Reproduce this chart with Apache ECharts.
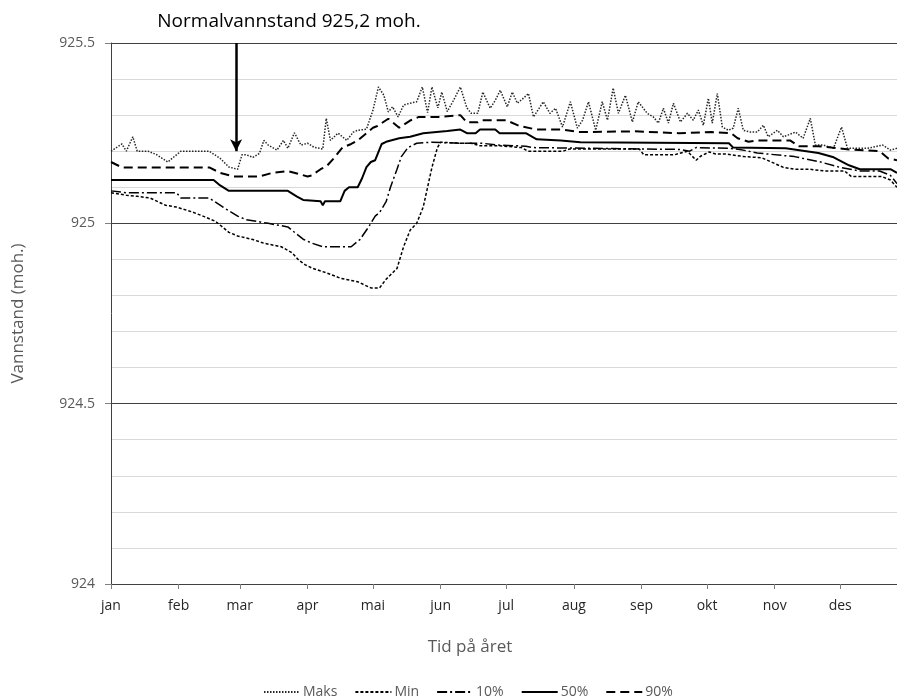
<!DOCTYPE html>
<html>
<head>
<meta charset="utf-8">
<script src="https://cdn.jsdelivr.net/npm/echarts@6/dist/echarts.min.js"></script>
<style>html,body{margin:0;padding:0;background:#fff}#c{width:897px;height:697px}</style>
</head>
<body>
<div id="c"></div>
<script>
const monthNames = ['jan','feb','mar','apr','mai','jun','jul','aug','sep','okt','nov','des'];
const monthStarts = [0,31,59,90,120,151,181,212,243,273,304,334];
const yTicks = [924, 924.5, 925, 925.5];
const seriesNames = ['Maks','Min','10%','50%','90%'];

const maks = [[0,925.20],[5,925.22],[7,925.20],[10,925.24],[12,925.20],[17,925.20],[21,925.19],[26,925.17],[28,925.18],[32,925.20],[45,925.20],[50,925.18],[54,925.156],[58,925.15],[60,925.19],[62,925.19],[65,925.183],[68,925.194],[70,925.23],[72,925.217],[76,925.203],[79,925.23],[81,925.208],[84,925.251],[87,925.217],[90,925.222],[93,925.211],[97,925.206],[98.6,925.291],[100.5,925.23],[104,925.25],[108,925.23],[111,925.253],[113,925.258],[117,925.261],[120,925.314],[122.5,925.378],[125,925.355],[127,925.309],[129,925.323],[131.5,925.295],[134,925.328],[137,925.333],[140,925.337],[142.6,925.378],[145,925.307],[147,925.378],[149.7,925.32],[151.5,925.364],[154,925.31],[156.8,925.34],[160,925.378],[163,925.32],[165,925.305],[168,925.305],[170.3,925.364],[173.7,925.319],[176,925.341],[178.3,925.369],[181.5,925.323],[183.8,925.364],[186.1,925.333],[188.9,925.347],[191.2,925.36],[193.5,925.295],[198,925.337],[201,925.305],[203.6,925.319],[206.8,925.267],[210.4,925.337],[213.6,925.264],[216,925.286],[218.7,925.337],[222,925.258],[225,925.337],[227.4,925.286],[230,925.375],[232.4,925.305],[235.6,925.355],[238.8,925.281],[241.5,925.337],[245.6,925.305],[248.4,925.295],[250.7,925.278],[253,925.319],[255.3,925.278],[257.6,925.333],[260.8,925.281],[264,925.305],[266.7,925.286],[269,925.314],[271.3,925.272],[273.6,925.347],[275.4,925.278],[277.7,925.36],[280,925.267],[282.8,925.258],[285,925.264],[287.3,925.319],[289.6,925.258],[292.8,925.253],[296,925.253],[298.8,925.272],[301,925.24],[305.2,925.258],[308,925.24],[313.5,925.253],[317,925.236],[320.3,925.291],[322.6,925.217],[326.3,925.217],[330.9,925.208],[334.6,925.267],[337.3,925.208],[346.5,925.208],[353.4,925.217],[357,925.203],[360,925.208]];

const min = [[0,925.085],[7,925.078],[12,925.075],[18,925.07],[25,925.05],[30,925.045],[37,925.032],[43,925.018],[48,925.005],[51,924.99],[54,924.975],[58,924.965],[65,924.955],[70,924.945],[78,924.935],[83,924.918],[86,924.898],[89,924.885],[92,924.876],[99,924.862],[105,924.848],[113,924.838],[119,924.821],[123,924.821],[126,924.845],[131,924.875],[134,924.935],[137,924.981],[140,925.0],[143,925.045],[145,925.1],[147,925.155],[149.5,925.21],[151,925.225],[160,925.222],[165,925.222],[169,925.215],[178,925.215],[188,925.21],[191,925.2],[207,925.2],[210,925.206],[242,925.206],[244,925.19],[258,925.19],[264,925.2],[268,925.175],[270,925.186],[274,925.198],[277,925.192],[282,925.192],[290,925.185],[298,925.182],[308,925.155],[313,925.15],[320,925.15],[327,925.145],[336,925.145],[339,925.13],[353,925.13],[357,925.12],[360,925.1]];

const p10 = [[0,925.09],[7,925.085],[30,925.085],[32,925.07],[45,925.07],[51,925.046],[58,925.02],[62,925.01],[72,925.0],[81,924.99],[88,924.956],[92,924.945],[97,924.935],[110,924.935],[114,924.955],[118,924.99],[121,925.02],[123,925.03],[126,925.06],[128,925.1],[131,925.15],[133,925.185],[136,925.21],[140,925.222],[147,925.225],[160,925.222],[170,925.222],[177,925.217],[190,925.214],[193,925.21],[260,925.205],[265,925.2],[268,925.21],[283,925.208],[288,925.205],[296,925.195],[313,925.185],[325,925.17],[334,925.155],[343,925.145],[352,925.145],[357,925.133],[360,925.11]];

const p50 = [[0,925.12],[47,925.12],[50,925.105],[54,925.09],[81,925.09],[85,925.075],[88,925.065],[96,925.061],[97,925.05],[98,925.061],[105,925.061],[107,925.09],[109,925.10],[113,925.10],[115,925.125],[117,925.156],[119,925.17],[121,925.175],[124,925.22],[126,925.226],[132,925.236],[137,925.24],[143,925.25],[154,925.256],[160,925.26],[163,925.25],[167,925.25],[169,925.26],[176,925.26],[178,925.25],[190,925.25],[195,925.233],[206,925.23],[215,925.225],[283,925.222],[285,925.21],[309,925.208],[324,925.195],[331,925.183],[338,925.161],[343,925.15],[357,925.15],[360,925.14]];

const p90 = [[0,925.17],[5,925.155],[45,925.155],[50,925.14],[56,925.13],[68,925.13],[74,925.14],[81,925.145],[90,925.13],[92,925.133],[96,925.15],[99,925.16],[102,925.18],[106,925.21],[110,925.22],[113,925.23],[117,925.25],[120,925.265],[122,925.27],[127,925.29],[129,925.28],[132,925.265],[137,925.285],[141,925.295],[150,925.295],[160,925.30],[163,925.28],[168,925.28],[170,925.286],[181,925.286],[187,925.27],[195,925.26],[206,925.26],[215,925.253],[240,925.255],[260,925.25],[275,925.253],[284,925.25],[287,925.236],[292,925.226],[296,925.23],[311,925.23],[315,925.214],[324,925.214],[330,925.21],[338,925.205],[352,925.2],[356,925.18],[360,925.175]];

const arrowDay = 57.3;
const normalLevel = 925.2;
const FONT = 'Open Sans';

const chart = echarts.init(document.getElementById('c'), null, {renderer: 'canvas'});
const mkSeries = (name, data, color, width, type) => ({
  name, type: 'line', data, symbol: 'none', smooth: false, animation: false,
  lineStyle: {color, width, type}, itemStyle: {color}
});
const series = [
  mkSeries(seriesNames[0], maks, '#262626', 1.5, [1.5, 1.5]),
  mkSeries(seriesNames[1], min, '#000', 1.5, [3, 2]),
  mkSeries(seriesNames[2], p10, '#000', 1.5, [10, 3, 2, 3]),
  mkSeries(seriesNames[3], p50, '#000', 2, 'solid'),
  mkSeries(seriesNames[4], p90, '#000', 2, [9, 5])
];
series[3].markLine = {
  silent: true, animation: false,
  symbol: ['none', 'arrow'], symbolSize: [9, 12],
  lineStyle: {color: '#000', width: 2.5, type: 'solid'},
  label: {show: false},
  data: [[{coord: [arrowDay, 925.5]}, {coord: [arrowDay, normalLevel]}]]
};

chart.setOption({
  animation: false,
  textStyle: {fontFamily: FONT},
  grid: {left: 111, right: 0, top: 43, bottom: 113, containLabel: false},
  xAxis: {
    type: 'value', min: 0, max: 360,
    axisLine: {show: true, lineStyle: {color: '#404040', width: 1}},
    axisTick: {show: true, length: 5, lineStyle: {color: '#7f7f7f'}, customValues: monthStarts},
    axisLabel: {
      customValues: monthStarts, margin: 15, color: '#262626', fontSize: 14, fontFamily: FONT,
      formatter: v => monthNames[monthStarts.indexOf(v)] || ''
    },
    splitLine: {show: false}
  },
  yAxis: {
    type: 'value', min: 924, max: 925.5, interval: 0.5,
    name: 'Vannstand (moh.)', nameLocation: 'middle', nameGap: 84,
    nameTextStyle: {color: '#595959', fontSize: 17, fontFamily: FONT},
    axisLine: {show: true, lineStyle: {color: '#404040'}},
    axisTick: {show: true, length: 6, lineStyle: {color: '#7f7f7f'}},
    axisLabel: {color: '#595959', fontSize: 14, margin: 16, fontFamily: FONT},
    splitLine: {show: true, lineStyle: {color: '#404040', width: 1}},
    minorTick: {show: false, splitNumber: 5},
    minorSplitLine: {show: true, lineStyle: {color: '#d9d9d9', width: 1}}
  },
  legend: {
    left: 258, top: 680, itemWidth: 36, itemHeight: 12, itemGap: 17,
    itemStyle: {opacity: 0},
    textStyle: {color: '#595959', fontSize: 14, fontFamily: FONT, padding: [0,0,0,-2]},
    data: seriesNames
  },
  graphic: [
    {type: 'text', x: 289, y: 22, style: {text: 'Normalvannstand 925,2 moh.', fill: '#000', font: '19px "Open Sans"', textAlign: 'center', textVerticalAlign: 'middle'}},
    {type: 'text', x: 470, y: 647, style: {text: 'Tid på året', fill: '#595959', font: '17px "Open Sans"', textAlign: 'center', textVerticalAlign: 'middle'}}
  ],
  series
});
</script>
</body>
</html>
